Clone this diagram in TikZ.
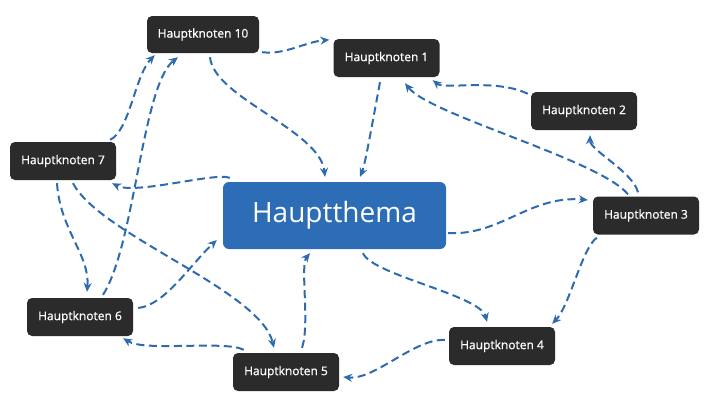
\documentclass[tikz,border=0pt]{standalone}
\usepackage{fontspec}
\setmainfont{Open Sans}
\newfontfamily\nodefont{Open Sans}[RawFeature={embolden=0.8}]
\usetikzlibrary{calc,arrows.meta}
\definecolor{darkbox}{HTML}{2B2B2B}
\definecolor{mainblue}{HTML}{2C6DB5}
\definecolor{linkblue}{HTML}{2E6BAE}
\tikzset{
  sub/.style={draw=none,fill=darkbox,rounded corners=5pt,minimum width=106pt,minimum height=38pt,text=white,font=\nodefont\fontsize{12}{14}\selectfont,inner sep=0pt},
  topic/.style={draw=none,fill=mainblue,rounded corners=6pt,minimum width=223pt,minimum height=67pt,text=white,font=\fontsize{28}{31}\selectfont,inner sep=0pt},
  conn/.style={draw=linkblue,line width=2pt,dash pattern=on 8pt off 4.5pt,-{Stealth[length=9pt,width=8pt]}}
}
\begin{document}
\begin{tikzpicture}[x=1pt,y=-1pt]
\useasboundingbox (0,0) rectangle (707,400);
\node[topic] (ht) at (334.5,215.5) {Hauptthema};
\node[sub] (n1) at (386.5,58) {Hauptknoten 1};
\node[sub] (n2) at (584,111) {Hauptknoten 2};
\node[sub] (n3) at (646,215.5) {Hauptknoten 3};
\node[sub] (n4) at (502,346) {Hauptknoten 4};
\node[sub] (n5) at (286,372) {Hauptknoten 5};
\node[sub] (n6) at (80,317) {Hauptknoten 6};
\node[sub] (n7) at (63,161) {Hauptknoten 7};
\node[sub,minimum width=112pt,minimum height=37pt] (n10) at (203,34.5) {Hauptknoten 10};
% 10 -> 1
\draw[conn] ($(n10.south east)+(3,-1)$) .. controls (285,55) and (305,42) .. ($(n1.north west)+(-4,1)$);
% 10 -> HT
\draw[conn] ($(n10.south)+(7,4)$) .. controls (214,98) and (320,130) .. ($(ht.north)+(-9.5,-5)$);
% 1 -> HT
\draw[conn] ($(n1.south)+(-6.5,5)$) .. controls (372,125) and (365,165) .. ($(ht.north)+(25.5,-5)$);
% 2 -> 1
\draw[conn] ($(n2.north west)+(-3,2)$) .. controls (495,78) and (445,90) .. ($(n1.south east)+(-7,3)$);
% 3 -> 1
\draw[conn] ($(n3.north)+(-18,-2)$) .. controls (600,160) and (430,115) .. ($(n1.south)+(18.5,6)$);
% 3 -> 2
\draw[conn] ($(n3.north)+(-8,-4)$) .. controls (633,172) and (590,150) .. ($(n2.south)+(6,5)$);
% HT -> 3
\draw[conn] ($(ht.east)+(2,17.5)$) .. controls (500,236) and (530,195) .. ($(n3.west)+(-5,-15.5)$);
% 3 -> 4
\draw[conn] ($(n3.south west)+(4,3)$) .. controls (582,248) and (570,305) .. ($(n4.north east)+(-3,-3)$);
% HT -> 4
\draw[conn] ($(ht.south)+(28.5,4)$) .. controls (372,275) and (480,295) .. ($(n4.north)+(-15,-5)$);
% 4 -> 5
\draw[conn] ($(n4.west)+(-4,-6)$) .. controls (415,338) and (375,380) .. ($(n5.east)+(4,5)$);
% 5 -> HT
\draw[conn] ($(n5.north)+(16,-5)$) .. controls (310,325) and (300,265) .. ($(ht.south)+(-24.5,4)$);
% 5 -> 6
\draw[conn] ($(n5.north west)+(11,-3)$) .. controls (225,340) and (145,352) .. ($(n6.south east)+(-10,2)$);
% 7 -> 5
\draw[conn] ($(n7.south)+(10,3)$) .. controls (100,235) and (260,290) .. ($(n5.north)+(-12,-5)$);
% 7 -> 6
\draw[conn] ($(n7.south)+(-6,3)$) .. controls (60,230) and (90,255) .. ($(n6.north)+(7,-6)$);
% 6 -> HT
\draw[conn] ($(n6.east)+(5,-9)$) .. controls (165,305) and (190,265) .. ($(ht.west)+(-6,24.5)$);
% 6 -> 10
\draw[conn] ($(n6.north)+(23,-3)$) .. controls (135,245) and (142,85) .. ($(n10.south)+(-25,4)$);
% 7 -> 10
\draw[conn] ($(n7.north east)+(-6,-2)$) .. controls (130,130) and (135,75) .. ($(n10.south west)+(8,2)$);
% HT -> 7
\draw[conn] ($(ht.north west)+(7,-4)$) .. controls (215,172) and (135,195) .. ($(n7.south east)+(-4,3)$);
\end{tikzpicture}
\end{document}
